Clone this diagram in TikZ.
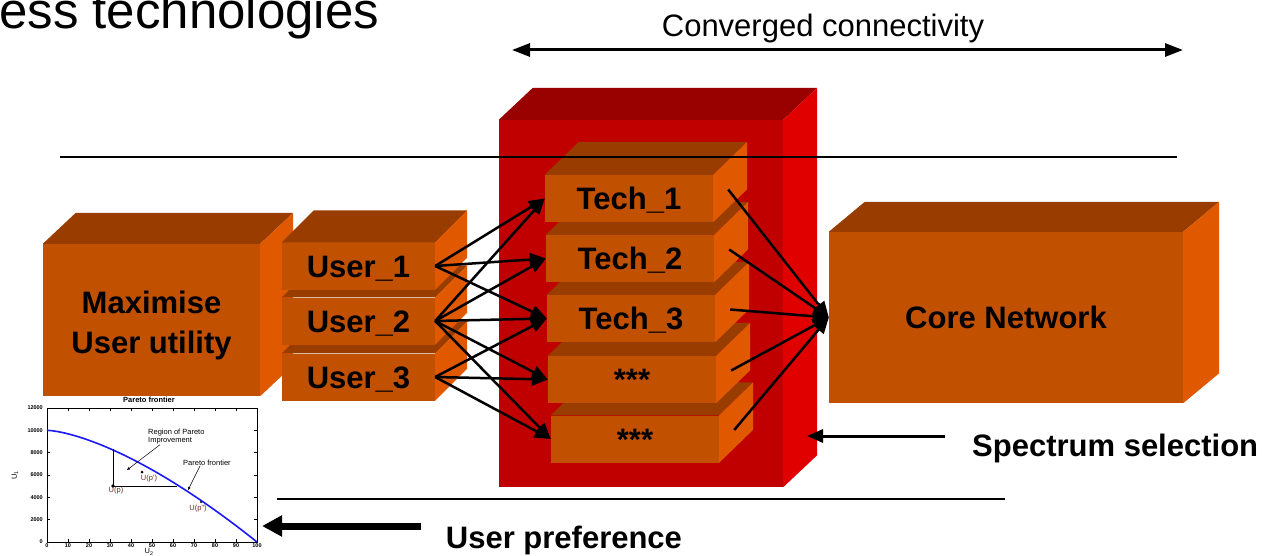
\documentclass[tikz,border=0pt]{standalone}
\usepackage{fontspec}
\setmainfont{Liberation Sans}
\usetikzlibrary{arrows.meta}
\definecolor{boxfront}{RGB}{193,80,0}
\definecolor{boxtop}{RGB}{153,60,0}
\definecolor{boxside}{RGB}{224,88,0}
\definecolor{redfront}{RGB}{192,0,0}
\definecolor{redtop}{RGB}{153,0,0}
\definecolor{redside}{RGB}{224,0,0}
\definecolor{curveblue}{RGB}{25,25,245}
\definecolor{labelred}{RGB}{110,40,30}
% top and side faces of a box drawn behind node #1
\newcommand{\boxfaces}[5]{%
\fill[#4] (#1.north west) -- ([shift={(#2,#3)}]#1.north west) -- ([shift={(#2,#3)}]#1.north east) -- (#1.north east) -- cycle;
\fill[#5] (#1.north east) -- ([shift={(#2,#3)}]#1.north east) -- ([shift={(#2,#3)}]#1.south east) -- (#1.south east) -- cycle;
}
\begin{document}
\begin{tikzpicture}[x=1pt,y=-1pt,line cap=butt,>={Triangle[length=16pt,width=13pt]},
  frontface/.style={rectangle,inner sep=0pt,fill=boxfront,text height=22pt,text depth=0pt,font=\fontsize{31}{36}\selectfont\bfseries},
  userlink/.style={->,line width=2.5pt},
  tinytext/.style={font=\fontsize{7.5}{8}\selectfont,inner sep=0pt},
  ticktext/.style={font=\fontsize{5.5}{6}\selectfont\bfseries,inner sep=0pt},
  tinyarrow/.style={-{Triangle[length=3pt,width=2.5pt]},line width=0.5pt}]
\useasboundingbox (0,0) rectangle (1269,556);

\node[font=\fontsize{51}{60}\selectfont,anchor=base west,inner sep=0pt] (title) at (-1,29) {ess technologies};

%converged connectivity
\coordinate (convL) at (512,50);
\coordinate (convR) at (1183,50);
\draw[<->,line width=3pt,>={Triangle[length=18pt,width=13pt]}] (convL) -- (convR);
\node[font=\fontsize{31}{36}\selectfont,anchor=base] (convtext) at (823,37) {Converged connectivity};

%spectrum box
\node[frontface,fill=redfront,minimum width=284pt,minimum height=367pt] (spectrum) at (641,303.5) {};
\boxfaces{spectrum}{34}{-32}{redtop}{redside}

%techs, lowest first
\foreach \n/\x/\y/\t in {5/635/439/***,4/632/379.5/***,3/631/318.5/Tech\_3,2/630/258.5/Tech\_2,1/629/198.5/Tech\_1}
{
\node[frontface,minimum width=168pt,minimum height=47pt] (tech\n) at (\x,\y) {\t};
\boxfaces{tech\n}{34}{-33}{boxtop}{boxside}
}

%utility and users
\node[frontface,minimum width=217pt,minimum height=152pt,align=center,text height=66pt,font=\fontsize{31}{40}\selectfont\bfseries] (utility) at (151.5,320) {Maximise\\User utility};
\boxfaces{utility}{33}{-31}{boxtop}{boxside}
\foreach \n/\y in {3/377,2/321,1/266}
{
\node[frontface,minimum width=153pt,minimum height=47pt] (user\n) at (358.5,\y) {User\_\n};
\boxfaces{user\n}{32}{-32}{boxtop}{boxside}
}

%core network
\node[frontface,minimum width=354pt,minimum height=171pt] (core) at (1006,317.5) {Core Network};
\boxfaces{core}{36}{-30}{boxtop}{boxside}

%rules
\draw[line width=2.5pt] (60,157) -- (1177,157);
\draw[line width=2.5pt] (277,499) -- (1005,499);

%users to techs
\foreach \u/\t in {1/1,1/2,1/3,2/1,2/2,2/3,2/4,2/5,3/3,3/4,3/5}
\draw[userlink] (user\u.east) -- (tech\t.west);
%techs to core
\foreach \t in {1,...,5}
\draw[userlink] ([shift={(15,-9)}]tech\t.east) -- (core.west);

%spectrum selection
\node[font=\fontsize{31}{36}\selectfont\bfseries,anchor=west,inner sep=0pt] (spectext) at (972,448) {Spectrum selection};
\coordinate (specfrom) at (945,436);
\coordinate (specto) at (807,436);
\draw[->,line width=3pt] (specfrom) -- (specto);

%user preference
\node[font=\fontsize{31}{36}\selectfont\bfseries,inner sep=0pt] (preftext) at (564,540) {User preference};
\coordinate (preffrom) at (421,526);
\coordinate (prefto) at (262,526);
\draw[->,line width=7pt,>={Triangle[length=20pt,width=20pt]}] (preffrom) -- (prefto);

%pareto plot
\draw[line width=0.8pt] (47,408) rectangle (257,542);
\foreach \i in {0,...,10}
{
\pgfmathtruncatemacro{\lab}{10*\i}
\draw[line width=0.6pt] (47+21*\i,542) -- ++(0,-3);
\draw[line width=0.6pt] (47+21*\i,408) -- ++(0,3);
\node[ticktext] at (47+21*\i,546) {\lab};
}
\foreach \j in {0,...,6}
{
\pgfmathtruncatemacro{\lab}{2000*\j}
\draw[line width=0.6pt] (47,542-22.33*\j) -- ++(3,0);
\draw[line width=0.6pt] (257,542-22.33*\j) -- ++(-3,0);
\node[ticktext,anchor=east] at (43,542-22.33*\j) {\lab};
}
\node[ticktext,font=\fontsize{7.5}{8}\selectfont\bfseries] (plottitle) at (149,400) {Pareto frontier};
\node[tinytext,rotate=90] (ylab) at (15,475) {U\textsubscript{1}};
\node[tinytext] (xlab) at (149,552) {U\textsubscript{2}};
\draw[curveblue,line width=1.6pt] plot[domain=0:1,samples=40] ({47+210*\x},{542-111.7*(1-\x*sqrt(\x))});
\draw[line width=0.6pt] (113,449) -- (113,486) -- (177,486);
\fill (113,486) circle (1.8);
\fill (142,472) circle (1.5);
\fill (201,502) circle (1.2);
\node[tinytext,text=labelred] (up) at (116,491) {U(p)};
\node[tinytext,text=labelred] (upone) at (149,479) {U(p')};
\node[tinytext,text=labelred] (uptwo) at (198,509) {U(p'')};
\node[tinytext,anchor=west,align=left] (region) at (148,437) {Region of Pareto\\Improvement};
\coordinate (regionpt) at (127,470);
\draw[tinyarrow] ([xshift=12pt]region.south west) -- (regionpt);
\node[tinytext,anchor=west] (frontier) at (183,463) {Pareto frontier};
\coordinate (frontierpt) at (188,490);
\draw[tinyarrow] ([xshift=17pt]frontier.south west) -- (frontierpt);
\end{tikzpicture}
\end{document}
